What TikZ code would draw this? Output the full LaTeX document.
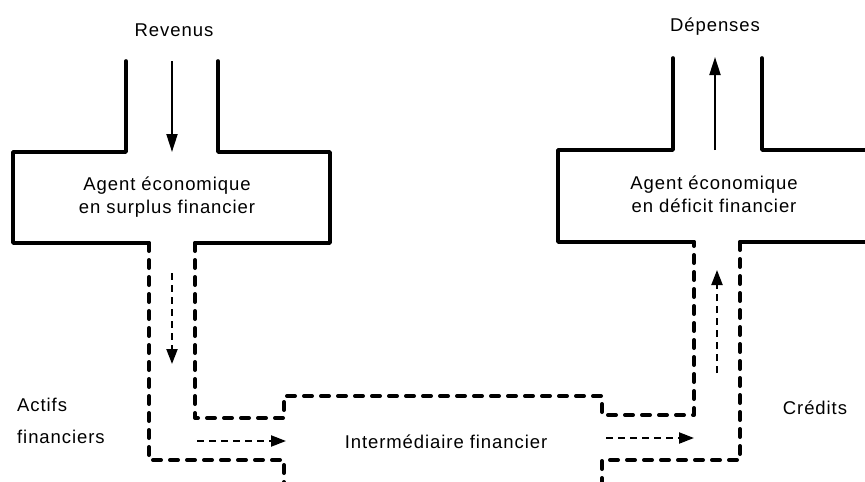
\documentclass[tikz,border=0pt]{standalone}
\usepackage{fontspec}
\setmainfont[LetterSpace=5]{Liberation Sans}
\usetikzlibrary{arrows.meta}

\begin{document}
\begin{tikzpicture}[x=1pt,y=-1pt,
    wall/.style={line width=3.6pt,line join=round,line cap=round},
    dashwall/.style={line width=4pt,line join=round,line cap=round,dash pattern=on 8pt off 9pt},
    flow/.style={line width=2pt,-{Triangle[length=18pt,width=11pt]}},
    dashflow/.style={line width=2.2pt,dash pattern=on 7pt off 5pt,-{Triangle[length=15pt,width=11pt]}},
    lbl/.style={font=\fontsize{18.5}{23}\selectfont,inner sep=0pt,align=center}]
    \useasboundingbox (0,0) rectangle (865,482);

    % agent en surplus
    \draw[wall] (126,61) -- (126,152) -- (13,152) -- (13,243) -- (149,243);
    \draw[wall] (218,61) -- (218,152) -- (330,152) -- (330,243) -- (195,243);
    \draw[dashwall] (149,243) -- (149,460) -- (284,460) -- (284,490);
    \draw[dashwall] (195,243) -- (195,418) -- (284,418) -- (284,396) -- (602,396) -- (602,415) -- (694,415) -- (694,242);

    % agent en deficit
    \draw[wall] (673,58) -- (673,150) -- (558,150) -- (558,242) -- (694,242);
    \draw[wall] (762,58) -- (762,150) -- (875,150);
    \draw[wall] (875,242) -- (740,242);
    \draw[dashwall] (740,242) -- (740,460) -- (602,460) -- (602,490);

    % flux
    \coordinate (rev-a) at (172,61);
    \coordinate (rev-b) at (172,152);
    \coordinate (act-a) at (172,273);
    \coordinate (act-b) at (172,364);
    \coordinate (int-a) at (197,441);
    \coordinate (int-b) at (286,441);
    \coordinate (cre-a) at (606,438);
    \coordinate (cre-b) at (694,438);
    \coordinate (def-a) at (717,373);
    \coordinate (def-b) at (717,270);
    \coordinate (dep-a) at (715,150);
    \coordinate (dep-b) at (715,57);
    \draw[flow] (rev-a) -- (rev-b);
    \draw[dashflow] (act-a) -- (act-b);
    \draw[dashflow] (int-a) -- (int-b);
    \draw[dashflow] (cre-a) -- (cre-b);
    \draw[dashflow] (def-a) -- (def-b);
    \draw[flow] (dep-a) -- (dep-b);

    % textes
    \node[lbl] (revenus) at (174,30) {Revenus};
    \node[lbl] (depenses) at (715,27) {Dépenses};
    \node[lbl] (surplus) at (167,197) {Agent économique\\en surplus financier};
    \node[lbl] (deficit) at (714,194) {Agent économique\\en déficit financier};
    \node[lbl,align=left,anchor=west] (actifs) at (17,421) {Actifs\\[9pt]financiers};
    \node[lbl] (interm) at (446,442) {Intermédiaire financier};
    \node[lbl] (credits) at (815,408) {Crédits};
\end{tikzpicture}
\end{document}
